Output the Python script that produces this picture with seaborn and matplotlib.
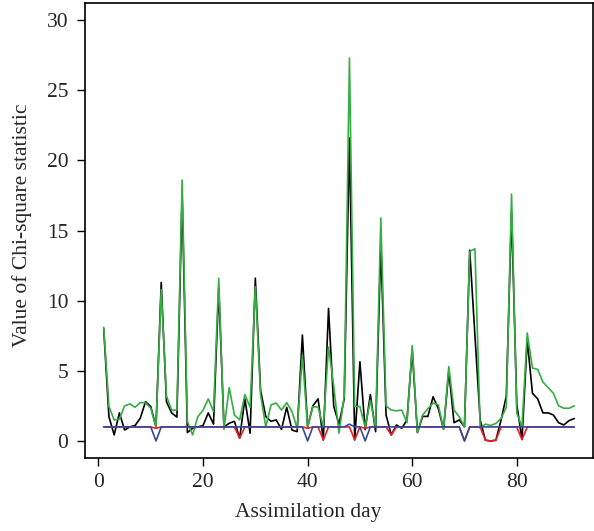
import matplotlib
matplotlib.use("Agg")
import matplotlib.pyplot as plt
import seaborn as sns
import pandas as pd
import numpy as np

days = list(range(1, 92))

chi_black = [
    8.0, 1.73, 0.43, 2.0, 0.78, 1.0, 1.1, 1.63, 2.8, 2.45,
    1.0, 11.3, 2.8, 2.0, 1.7, 17.6, 0.6, 0.9, 1.0, 1.1,
    2.0, 1.2, 10.9, 1.0, 1.26, 1.4, 0.2, 3.0, 0.55, 11.6,
    3.6, 1.73, 1.4, 1.5, 0.83, 2.4, 0.78, 0.66, 7.55, 1.0,
    2.5, 3.0, 0.07, 9.45, 2.45, 1.2, 3.0, 21.6, 0.07, 5.65,
    0.8, 3.3, 0.66, 14.0, 1.85, 0.43, 1.14, 0.9, 1.5, 6.5,
    0.6, 1.75, 1.75, 3.15, 2.3, 0.83, 5.0, 1.3, 1.5, 1.0,
    13.6, 7.5, 1.5, 0.05, 0.0, 0.05, 1.5, 3.2, 16.3, 2.6,
    0.1, 7.2, 3.4, 3.0, 2.0, 2.0, 1.85, 1.3, 1.14, 1.45,
    1.6,
]

chi_green = [
    8.1, 2.45, 1.5, 1.55, 2.5, 2.64, 2.4, 2.73, 2.73, 2.33,
    1.0, 10.8, 3.2, 2.2, 2.2, 18.6, 1.4, 0.43, 1.73, 2.2,
    3.0, 2.1, 11.6, 0.83, 3.8, 1.85, 1.5, 3.3, 2.4, 11.0,
    3.3, 1.0, 2.57, 2.7, 2.2, 2.73, 2.1, 0.9, 6.1, 1.0,
    2.45, 2.4, 1.0, 6.7, 3.9, 0.55, 3.2, 27.3, 2.45, 2.45,
    1.0, 2.9, 1.0, 15.9, 2.5, 2.2, 2.15, 2.2, 1.3, 6.8,
    0.6, 1.85, 2.3, 2.7, 2.57, 0.83, 5.3, 2.2, 1.73, 1.0,
    13.5, 13.7, 0.9, 1.2, 1.1, 1.25, 1.6, 2.4, 17.6, 2.0,
    1.0, 7.7, 5.2, 5.1, 4.2, 3.8, 3.4, 2.5, 2.33, 2.33,
    2.5,
]

# red and blue sit at 1 except on a few days
base_level = 1.0
red_days = [11, 27, 40, 43, 49, 51, 56, 70, 74, 75, 76, 81]
red_vals = [0.9, 0.2, 0.9, 0.07, 0.07, 0.9, 0.43, 0.0, 0.05, 0.0, 0.05, 0.1]
blue_days = [11, 40, 48, 51, 70]
blue_vals = [0.0, 0.0, 1.2, 0.0, 0.0]

df = pd.DataFrame({"day": days, "black": chi_black, "green": chi_green})
df["red"] = base_level
df["blue"] = base_level
df.loc[df["day"].isin(red_days), "red"] = pd.Series(red_vals, index=[d - 1 for d in red_days])
df.loc[df["day"].isin(blue_days), "blue"] = pd.Series(blue_vals, index=[d - 1 for d in blue_days])

sns.set_style("white")
plt.rcParams["font.family"] = ["Liberation Serif", "DejaVu Serif"]

fig = plt.figure(figsize=(5.94, 5.31), dpi=100)
ax = fig.add_axes([0.1429, 0.1379, 0.8556, 0.8559])

colors = {"black": "black", "green": "#36ad42", "red": "#ee1c24", "blue": "#34499c"}
for col in ["black", "green", "red", "blue"]:
    sns.lineplot(data=df, x="day", y=col, color=colors[col], linewidth=1.2, ax=ax)

ax.set_xlim(-2.6, 94.6)
ax.set_ylim(-1.2, 31.2)
ax.set_xticks([0, 20, 40, 60, 80])
ax.set_yticks([0, 5, 10, 15, 20, 25, 30])
ax.tick_params(axis="both", direction="out", length=6, width=1, color="black",
               labelsize=15.5, left=True, bottom=True)
ax.tick_params(axis="x", pad=5)
ax.tick_params(axis="y", pad=6)
for s in ax.spines.values():
    s.set_visible(True)
    s.set_color("black")
    s.set_linewidth(1.2)

ax.set_xlabel("Assimilation day", fontsize=15.5)
ax.set_ylabel("Value of Chi-square statistic", fontsize=15.5)
ax.xaxis.set_label_coords(0.44, -0.1)
ax.yaxis.set_label_coords(-0.104, 0.512)

fig.savefig("out.png", dpi=100)
